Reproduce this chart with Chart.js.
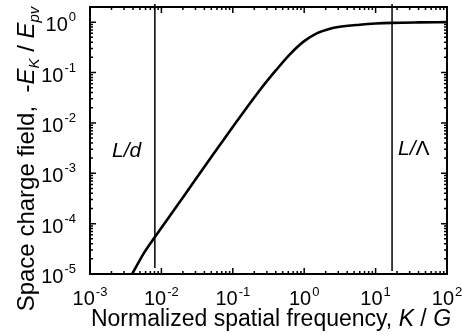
<!DOCTYPE html>
<html>
<head>
<meta charset="UTF-8">
<title>Space charge field</title>
<script src="https://cdn.jsdelivr.net/npm/chart.js@4.4.1/dist/chart.umd.min.js"></script>
<style>
  html, body { margin: 0; padding: 0; background: #fff; }
  canvas { display: block; }
</style>
</head>
<body>
<canvas id="chart" width="462" height="336"></canvas>
<script>
// values (log-log)
const freqK = [0.0039, 0.0055, 0.0081, 0.02, 0.05, 0.098, 0.24, 0.4, 0.63, 1.0, 1.5, 2.3, 3, 6, 10, 17, 40, 100];
const fieldE = [1e-5, 2.4e-5, 5.4e-5, 3.3e-4, 0.0021, 0.008, 0.045, 0.11, 0.23, 0.42, 0.6, 0.74, 0.8, 0.89, 0.94, 0.97, 0.99, 1.0];

// the two marker lines, L/d and L/Lambda
const markerK = [0.0081, 17];
const markerBottom = [1.32e-5, 1.15e-5];
const markerTop = 2.3;

const xDecades = [-3, -2, -1, 0, 1, 2];
const yDecades = [-5, -4, -3, -2, -1, 0];
const minorSteps = [2, 3, 4, 5, 6, 7, 8, 9];

const FONT = '"Liberation Sans", Arial, Helvetica, sans-serif';

function drawPieces(ctx, pieces, x0, y0) {
  // pieces: {t, font, dy}
  let x = x0;
  pieces.forEach(p => {
    ctx.font = p.font;
    ctx.fillText(p.t, x, y0 + (p.dy || 0));
    x += ctx.measureText(p.t).width;
  });
}

function piecesWidth(ctx, pieces) {
  let w = 0;
  pieces.forEach(p => { ctx.font = p.font; w += ctx.measureText(p.t).width; });
  return w;
}

const framePlugin = {
  id: 'frame',
  afterDraw(chart) {
    const {ctx, chartArea: a, scales: {x, y}} = chart;
    ctx.save();
    ctx.strokeStyle = '#000';
    ctx.fillStyle = '#000';

    // ticks on all four sides, pointing inward
    ctx.lineWidth = 1.5;
    ctx.beginPath();
    xDecades.forEach(e => {
      const px = x.getPixelForValue(Math.pow(10, e));
      ctx.moveTo(px, a.bottom); ctx.lineTo(px, a.bottom - 6);
      ctx.moveTo(px, a.top); ctx.lineTo(px, a.top + 6);
      if (e === xDecades[xDecades.length - 1]) return;
      minorSteps.forEach(m => {
        const mx = x.getPixelForValue(m * Math.pow(10, e));
        ctx.moveTo(mx, a.bottom); ctx.lineTo(mx, a.bottom - 3);
        ctx.moveTo(mx, a.top); ctx.lineTo(mx, a.top + 3);
      });
    });
    yDecades.forEach(e => {
      const py = y.getPixelForValue(Math.pow(10, e));
      ctx.moveTo(a.left, py); ctx.lineTo(a.left + 6, py);
      ctx.moveTo(a.right, py); ctx.lineTo(a.right - 6, py);
      if (e === yDecades[yDecades.length - 1]) return;
      minorSteps.forEach(m => {
        const my = y.getPixelForValue(m * Math.pow(10, e));
        ctx.moveTo(a.left, my); ctx.lineTo(a.left + 3, my);
        ctx.moveTo(a.right, my); ctx.lineTo(a.right - 3, my);
      });
    });
    ctx.stroke();

    // frame
    ctx.lineWidth = 2;
    ctx.strokeRect(a.left, a.top, a.right - a.left, a.bottom - a.top);

    // tick labels, 10 with superscript exponent
    const baseFont = '20px ' + FONT;
    const supFont = '13px ' + FONT;
    ctx.textAlign = 'left';
    ctx.textBaseline = 'alphabetic';
    ctx.font = baseFont;
    const baseW = ctx.measureText('10').width;

    yDecades.forEach(e => {
      const py = y.getPixelForValue(Math.pow(10, e));
      ctx.font = supFont;
      const supW = ctx.measureText(String(e)).width;
      const right = 76;
      ctx.fillText(String(e), right - supW, py - 1);
      ctx.font = baseFont;
      ctx.fillText('10', right - supW - 1 - baseW, py + 9);
    });

    xDecades.forEach(e => {
      const px = x.getPixelForValue(Math.pow(10, e));
      ctx.font = supFont;
      const supW = ctx.measureText(String(e)).width;
      const start = px - (baseW + 1 + supW) / 2;
      ctx.font = baseFont;
      ctx.fillText('10', start, 305);
      ctx.font = supFont;
      ctx.fillText(String(e), start + baseW + 1, 296);
    });

    // axis titles
    const tFont = '23px ' + FONT;
    const tItal = 'italic 23px ' + FONT;
    const xTitle = [
      {t: 'Normalized spatial frequency, ', font: tFont},
      {t: 'K', font: tItal},
      {t: ' / ', font: tFont},
      {t: 'G', font: tItal}
    ];
    drawPieces(ctx, xTitle, 271 - piecesWidth(ctx, xTitle) / 2, 326);

    const yFont = '24px ' + FONT;
    const yItal = 'italic 24px ' + FONT;
    const ySub = 'italic 15px ' + FONT;
    const yTitle = [
      {t: 'Space charge field,  -', font: yFont},
      {t: 'E', font: yItal},
      {t: 'K', font: ySub, dy: 5},
      {t: ' / ', font: yFont},
      {t: 'E', font: yItal},
      {t: 'pv', font: ySub, dy: 5}
    ];
    ctx.save();
    ctx.translate(34, 159);
    ctx.rotate(-Math.PI / 2);
    drawPieces(ctx, yTitle, -piecesWidth(ctx, yTitle) / 2, 0);
    ctx.restore();

    // marker labels
    const mItal = 'italic 21px ' + FONT;
    const mFont = '21px ' + FONT;
    drawPieces(ctx, [{t: 'L/d', font: mItal}], 112, 157);
    drawPieces(ctx, [{t: 'L/', font: mItal}, {t: '\u039B', font: mFont}], 398, 155);

    ctx.restore();
  }
};

const curve = freqK.map((k, i) => ({x: k, y: fieldE[i]}));
const markerSets = markerK.map((k, i) => ({
  data: [{x: k, y: markerBottom[i]}, {x: k, y: markerTop}],
  borderColor: '#000',
  borderWidth: 1.5,
  pointRadius: 0,
  showLine: true,
  clip: false
}));

new Chart(document.getElementById('chart'), {
  type: 'scatter',
  data: {
    datasets: [{
      data: curve,
      borderColor: '#000',
      borderWidth: 2.6,
      pointRadius: 0,
      showLine: true,
      cubicInterpolationMode: 'monotone'
    }, ...markerSets]
  },
  options: {
    responsive: false,
    animation: false,
    devicePixelRatio: 1,
    layout: { padding: { top: 7, right: 15, left: 0, bottom: 0 } },
    plugins: { legend: { display: false }, tooltip: { enabled: false } },
    scales: {
      x: {
        type: 'logarithmic', min: 1e-3, max: 100,
        ticks: { display: false },
        grid: { display: false, drawTicks: false },
        border: { display: false },
        afterFit: s => { s.height = 62; }
      },
      y: {
        type: 'logarithmic', min: 1e-5, max: 2,
        ticks: { display: false },
        grid: { display: false, drawTicks: false },
        border: { display: false },
        afterFit: s => { s.width = 90; }
      }
    }
  },
  plugins: [framePlugin]
});
</script>
</body>
</html>
